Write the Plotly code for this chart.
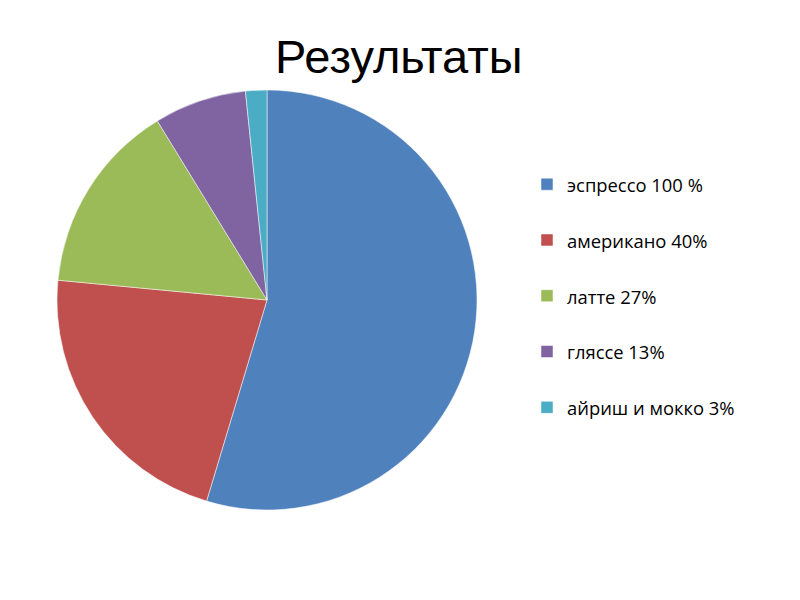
import plotly.graph_objects as go

labels = ["эспрессо 100 %", "американо 40%", "латте 27%", "гляссе 13%", "айриш и мокко 3%"]
values = [100, 40, 27, 13, 3]
colors = ["#4F81BD", "#C0504D", "#9BBB59", "#8064A2", "#4BACC6"]

# the page has an 8px body margin, so positions below are screen - 8
fig = go.Figure()
fig.add_trace(
    go.Pie(
        labels=["<span style='font-size:18.4px'>" + l + "</span><br>\u00a0" for l in labels],
        values=values,
        sort=False,
        direction="clockwise",
        rotation=0,
        textinfo="none",
        hoverinfo="label+value",
        marker=dict(colors=colors, line=dict(color="white", width=0.5)),
        domain=dict(x=[49 / 800, 469 / 800], y=[1 - 502 / 600, 1 - 82 / 600]),
    )
)

fig.add_annotation(
    text="Результаты",
    xref="paper", yref="paper",
    x=391 / 800, y=1 - 48.5 / 600,
    xanchor="center", yanchor="middle",
    showarrow=False,
    font=dict(family="Liberation Sans, Arial", size=47, color="black"),
)

fig.update_layout(
    width=800,
    height=600,
    margin=dict(l=0, r=0, t=0, b=0),
    paper_bgcolor="white",
    showlegend=True,
    legend=dict(
        x=519 / 800, y=1 - 156.5 / 600,
        xanchor="left", yanchor="top",
        valign="top",
        font=dict(family="Open Sans, Noto Sans", size=20.3, color="black"),
        bgcolor="rgba(0,0,0,0)",
    ),
)

fig.write_html("out.html")
